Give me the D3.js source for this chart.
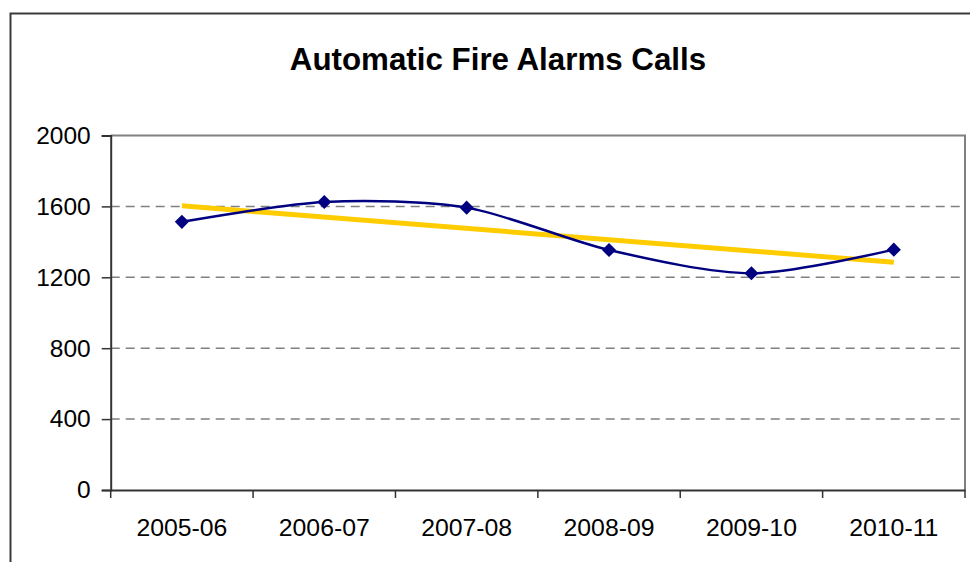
<!DOCTYPE html>
<html>
<head>
<meta charset="utf-8">
<script src="https://cdn.jsdelivr.net/npm/d3@7"></script>
<style>
  html, body { margin: 0; padding: 0; background: #fff; }
  svg { display: block; }
  text { font-family: "Liberation Sans", Arial, sans-serif; fill: #000; }
</style>
</head>
<body>
<svg id="chart" width="970" height="562"></svg>
<script>
// Financial years on the category axis
const categories = ["2005-06", "2006-07", "2007-08", "2008-09", "2009-10", "2010-11"];
// Automatic fire alarm calls per year
const calls = [1513, 1625, 1593, 1354, 1223, 1356];
// Value axis ticks
const yTicks = [0, 400, 800, 1200, 1600, 2000];
const chartTitle = "Automatic Fire Alarms Calls";

const svg = d3.select("#chart");
const plot = { left: 110.7, top: 135.5, right: 965, bottom: 490 };

// Outer chart frame (runs past the right and bottom edges)
svg.append("rect")
  .attr("x", 10.5).attr("y", 13.5)
  .attr("width", 1000).attr("height", 600)
  .attr("fill", "#fff").attr("stroke", "#3a3a3a").attr("stroke-width", 2);

svg.append("text")
  .attr("x", 498).attr("y", 70)
  .attr("text-anchor", "middle")
  .attr("font-size", 31.3).attr("font-weight", "bold")
  .text(chartTitle);

const x = d3.scaleBand().domain(categories).range([plot.left, plot.right]);
const y = d3.scaleLinear().domain([0, 2000]).range([plot.bottom, plot.top]);

// Dashed horizontal gridlines
svg.append("g").selectAll("line")
  .data(yTicks.filter(t => t > 0 && t < 2000))
  .join("line")
  .attr("x1", plot.left).attr("x2", plot.right)
  .attr("y1", d => y(d)).attr("y2", d => y(d))
  .attr("stroke", "#808080").attr("stroke-width", 1.5)
  .attr("stroke-dasharray", "9,6");

// Plot area border (top and right)
svg.append("path")
  .attr("d", `M${plot.left},${y(2000)}H${plot.right}V${plot.bottom}`)
  .attr("fill", "none").attr("stroke", "#808080").attr("stroke-width", 2);

// Value axis
const yAxis = d3.axisLeft(y).tickValues(yTicks).tickSize(9).tickPadding(11).tickFormat(d3.format("d"));
const gy = svg.append("g").attr("transform", `translate(${plot.left},0)`).call(yAxis);
gy.select(".domain").attr("stroke", "#333").attr("stroke-width", 2);
gy.selectAll(".tick line").attr("stroke", "#333").attr("stroke-width", 1.5);
gy.selectAll(".tick text").attr("font-size", 24.5).attr("font-family", "Liberation Sans, Arial, sans-serif").attr("fill", "#000");

// Category axis with ticks between categories
const xAxis = d3.axisBottom(x).tickSize(0).tickPadding(28);
const gx = svg.append("g").attr("transform", `translate(0,${plot.bottom})`).call(xAxis);
gx.select(".domain").attr("stroke", "#333").attr("stroke-width", 2);
gx.selectAll(".tick text").attr("font-size", 24.8).attr("font-family", "Liberation Sans, Arial, sans-serif").attr("fill", "#000");
const boundaries = categories.map(c => x(c)).concat([x(categories[categories.length - 1]) + x.bandwidth()]);
gx.selectAll(".sep").data(boundaries).join("line")
  .attr("class", "sep")
  .attr("x1", d => d).attr("x2", d => d)
  .attr("y1", 0).attr("y2", 8)
  .attr("stroke", "#333").attr("stroke-width", 1.5);

const cx = c => x(c) + x.bandwidth() / 2;

// Linear trendline (least squares over category index)
const n = calls.length;
const idx = d3.range(1, n + 1);
const mx = d3.mean(idx), my = d3.mean(calls);
const slope = d3.sum(idx, (i, k) => (i - mx) * (calls[k] - my)) / d3.sum(idx, i => (i - mx) ** 2);
const intercept = my - slope * mx;
const trend = [1, n].map(i => ({ c: categories[i - 1], v: intercept + slope * i }));
svg.append("path")
  .datum(trend)
  .attr("d", d3.line().x(d => cx(d.c)).y(d => y(d.v)))
  .attr("fill", "none").attr("stroke", "#FFCC00").attr("stroke-width", 5);

// Smoothed series line
const pts = categories.map((c, i) => ({ c, v: calls[i] }));
svg.append("path")
  .datum(pts)
  .attr("d", d3.line().x(d => cx(d.c)).y(d => y(d.v)).curve(d3.curveCardinal.tension(0.15)))
  .attr("fill", "none").attr("stroke", "#000080").attr("stroke-width", 2.5);

// Diamond markers
svg.append("g").selectAll("path")
  .data(pts)
  .join("path")
  .attr("d", d3.symbol(d3.symbolSquare, 100))
  .attr("transform", d => `translate(${cx(d.c)},${y(d.v)}) rotate(45)`)
  .attr("fill", "#000080");
</script>
</body>
</html>
